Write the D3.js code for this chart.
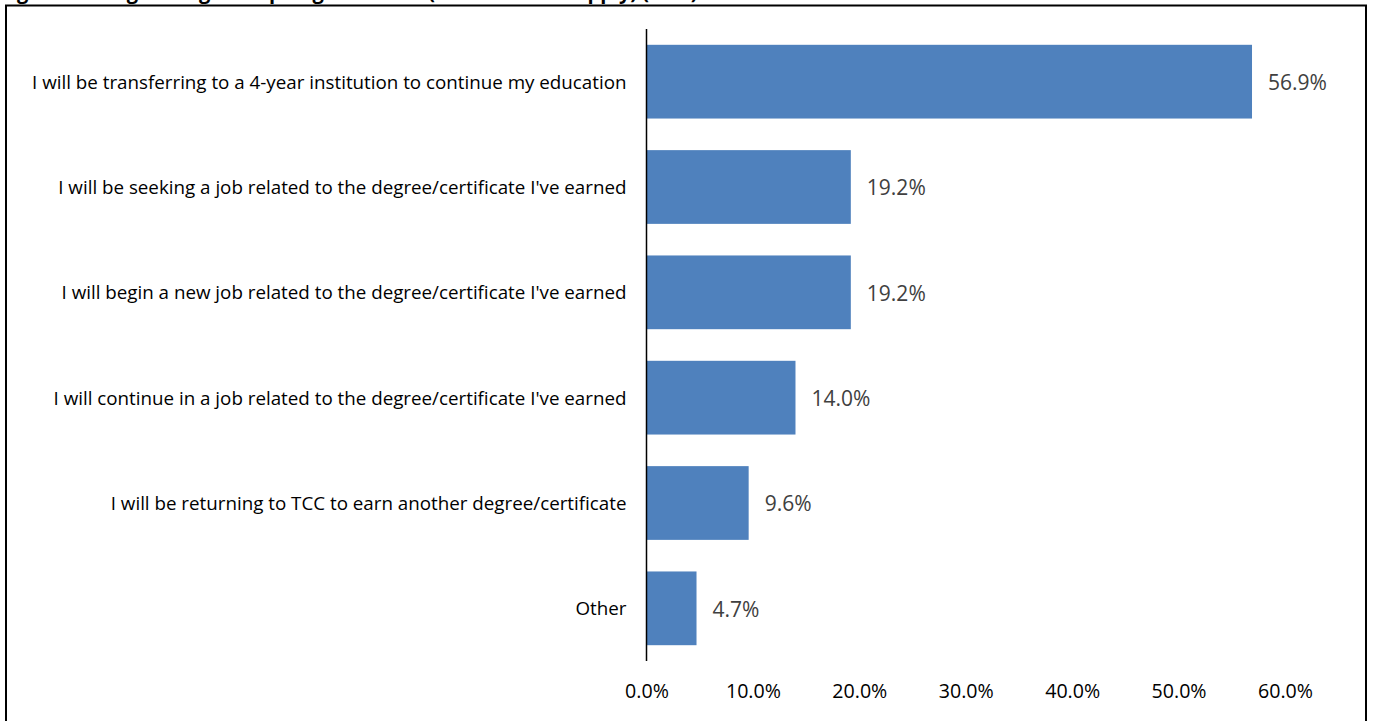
<!DOCTYPE html>
<html><head><meta charset="utf-8">
<script src="https://cdn.jsdelivr.net/npm/d3@7"></script>
<style>body{margin:0;background:#fff;overflow:hidden}svg{display:block}</style>
</head><body>
<svg id="c" width="1373" height="721"></svg>
<script>
const categories = [
  "I will be transferring to a 4-year institution to continue my education",
  "I will be seeking a job related to the degree/certificate I've earned",
  "I will begin a new job related to the degree/certificate I've earned",
  "I will continue in a job related to the degree/certificate I've earned",
  "I will be returning to TCC to earn another degree/certificate",
  "Other"
];
const values = [56.9, 19.2, 19.2, 14.0, 9.6, 4.7];
const tickValues = [0, 10, 20, 30, 40, 50, 60];
const titleText = "Figure 7: Long-term goals upon graduation (check all that apply) (n=...)";

const svg = d3.select("#c");
const font = "'Open Sans', sans-serif";

function fit(sel, refNode, target, base) {
  sel.attr("font-size", base);
  const w = refNode.getComputedTextLength();
  sel.attr("font-size", base * target / w);
}

// partially visible title (cut off at top in the reference)
svg.append("text").attr("x", 0).attr("y", -1)
  .attr("font-family", font).attr("font-weight", "bold").attr("font-size", 20)
  .attr("fill", "#000").text(titleText);

// frame
svg.append("rect").attr("x", 6).attr("y", 5.5).attr("width", 1360).attr("height", 730)
  .attr("fill", "none").attr("stroke", "#000").attr("stroke-width", 2);

const x = d3.scaleLinear().domain([0, 60]).range([646.5, 1285]);
const y = d3.scaleBand().domain(categories).range([29, 661]).paddingInner(0.3).paddingOuter(0.15);

const color = "#4F81BD";

svg.append("g").selectAll("rect").data(values).join("rect")
  .attr("x", x(0)).attr("y", (d, i) => y(categories[i]))
  .attr("width", d => x(d) - x(0)).attr("height", y.bandwidth())
  .attr("fill", color);

const vl = svg.append("g").selectAll("text").data(values).join("text")
  .attr("x", d => x(d) + 16).attr("y", (d, i) => y(categories[i]) + y.bandwidth() / 2 + 1)
  .attr("dy", "0.35em").attr("font-family", font)
  .attr("fill", "#404040").text(d => d.toFixed(1) + "%");
fit(vl, vl.nodes()[0], 59, 18);

const yAxis = svg.append("g").attr("transform", `translate(${x(0)},1)`)
  .call(d3.axisLeft(y).tickSize(0).tickPadding(20));
yAxis.select(".domain").remove();
yAxis.append("line").attr("x1", 0).attr("x2", 0).attr("y1", 28).attr("y2", 660)
  .attr("stroke", "#000").attr("stroke-width", 1.5);
const yl = yAxis.selectAll("text").attr("font-family", font).attr("fill", "#000");
fit(yl, yl.nodes()[0], 595, 16);

const xAxis = svg.append("g").attr("transform", "translate(0,684)")
  .call(d3.axisBottom(x).tickValues(tickValues).tickSize(0).tickPadding(0)
    .tickFormat(d => d.toFixed(1) + "%"));
xAxis.select(".domain").remove();
const xl = xAxis.selectAll("text").attr("font-family", font).attr("fill", "#000");
fit(xl, xl.nodes()[6], 55, 18);
</script>
</body></html>
